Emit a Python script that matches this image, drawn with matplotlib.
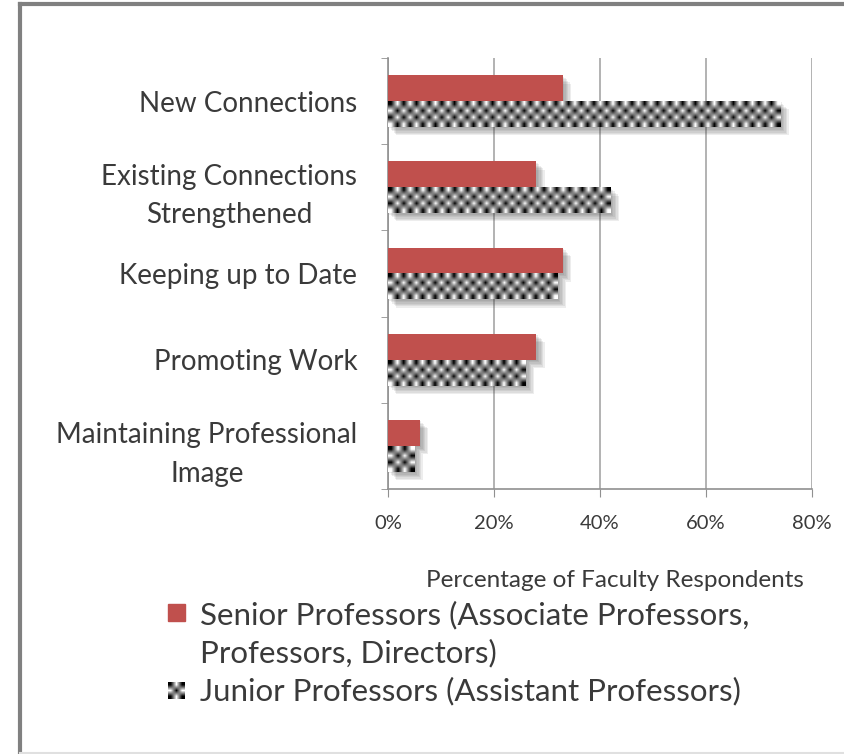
import numpy as np
import matplotlib
matplotlib.use('Agg')
import matplotlib.pyplot as plt
import matplotlib.patches as patches
import matplotlib.patheffects as pe
from matplotlib.lines import Line2D

plt.rcParams['font.family'] = ['Lato', 'DejaVu Sans']

categories = ['New Connections', 'Existing Connections\nStrengthened', 'Keeping up to Date',
              'Promoting Work', 'Maintaining Professional\nImage']
senior = [33, 28, 33, 28, 6]
junior = [74, 42, 32, 26, 5]
xticks = [0, 20, 40, 60, 80]
xtick_labels = ['0%', '20%', '40%', '60%', '80%']
legend_labels = ['Senior Professors (Associate Professors,\nProfessors, Directors)',
                 'Junior Professors (Assistant Professors)']
xlabel = 'Percentage of Faculty Respondents'

red = '#C0504D'
grid_col = '#A6A6A6'
txt = '#3A3A3A'

fig = plt.figure(figsize=(8.45, 7.54), dpi=100)
ax = fig.add_axes([388 / 845, 1 - 489 / 754, (812 - 388) / 845, (489 - 58) / 754])

y = np.arange(len(categories))
h = 0.3

shadow = [pe.SimplePatchShadow(offset=(o, -o), shadow_rgbFace='#404040', alpha=0.09)
          for o in (1.0, 2.0, 3.0, 4.0, 5.0, 6.0)]
shadow.append(pe.Normal())

b1 = ax.barh(y - h / 2, senior, height=h, color=red, zorder=3)
b2 = ax.barh(y + h / 2, junior, height=h, color='white', zorder=4)
for b in list(b1) + list(b2):
    b.set_path_effects(shadow)

# checkerboard fill for junior bars
cell_x = 1.2
nrows = 4
for b in b2:
    x0, y0, w, hh = b.get_x(), b.get_y(), b.get_width(), b.get_height()
    ncols = max(2, int(round(w / cell_x)))
    board = (np.add.outer(np.arange(nrows), np.arange(ncols)) % 2).astype(float)
    im = ax.imshow(board, cmap='gray', vmin=0, vmax=1, extent=(x0, x0 + w, y0 + hh, y0),
                   aspect='auto', interpolation='bilinear', zorder=5)
    im.set_clip_path(b)

ax.set_xlim(0, 80)
ax.set_ylim(len(categories) - 0.5, -0.5)
ax.set_xticks(xticks)
ax.set_xticklabels(xtick_labels, fontsize=14.5, color=txt)
ax.set_yticks(y)
ax.set_yticklabels(categories, fontsize=20, color=txt, multialignment='center', linespacing=1.6)
ax.set_yticks(np.arange(len(categories) + 1) - 0.5, minor=True)
ax.tick_params(axis='y', which='major', length=0, pad=22)
ax.tick_params(axis='y', which='minor', length=5, color='#909090')
ax.tick_params(axis='x', length=6, color='#909090', pad=13)
ax.grid(axis='x', color=grid_col, linewidth=1.2, zorder=0)
ax.set_axisbelow(True)
for s in ['top', 'right']:
    ax.spines[s].set_visible(False)
for s in ['left', 'bottom']:
    ax.spines[s].set_color('#909090')
    ax.spines[s].set_linewidth(1.2)
ax.set_xlabel(xlabel, fontsize=17.5, color=txt)
ax.xaxis.set_label_coords(0.535, -0.187)

# legend drawn by hand, Excel style
fig.patches.append(patches.Rectangle((168 / 845, 1 - 621 / 754), 17 / 845, 17 / 754,
                                     transform=fig.transFigure, color=red))
lax = fig.add_axes([168 / 845, 1 - 699 / 754, 17 / 845, 17 / 754])
lax.imshow((np.add.outer(np.arange(3), np.arange(3)) % 2).astype(float),
           cmap='gray', vmin=0, vmax=1, interpolation='bilinear', aspect='auto')
lax.axis('off')
fig.text(200 / 845, 1 - 662 / 754, legend_labels[0], fontsize=22.5, color=txt,
         va='baseline', ha='left', linespacing=1.39)
fig.text(200 / 845, 1 - 700 / 754, legend_labels[1], fontsize=22.5, color=txt,
         va='baseline', ha='left')

# frame
fig.add_artist(Line2D([20 / 845, 20 / 845], [0, 1 - 4 / 754], color='#808080', linewidth=3,
                      transform=fig.transFigure))
fig.add_artist(Line2D([20 / 845, 1], [1 - 4 / 754, 1 - 4 / 754], color='#808080', linewidth=3,
                      transform=fig.transFigure))
fig.add_artist(Line2D([20 / 845, 1], [1.5 / 754, 1.5 / 754], color='#E0E0E0', linewidth=1.5,
                      transform=fig.transFigure))

fig.savefig('out.png', dpi=100)
